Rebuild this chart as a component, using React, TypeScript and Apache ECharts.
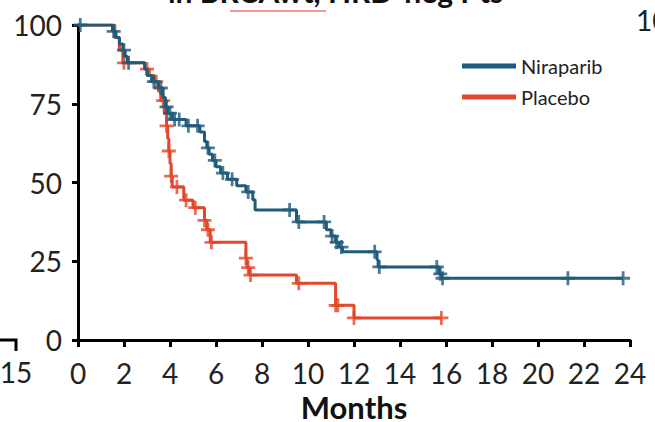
import React, { useEffect, useRef } from "react";
import * as echarts from "echarts";

// ---- Data ----
const seriesNames = ["Niraparib", "Placebo"];
const xTickLabels = ["0", "2", "4", "6", "8", "10", "12", "14", "16", "18", "20", "22", "24"];
const yTickLabels = ["0", "25", "50", "75", "100"];

// Kaplan-Meier steps: time (months) at which survival drops to the value
const niraparibTimes = [0, 1.5, 1.65, 1.8, 1.95, 2.05, 2.15, 2.9, 3.0, 3.2, 3.5, 3.7, 3.8, 3.9, 4.1, 4.7, 5.3, 5.5, 5.6, 5.7, 5.85, 6.0, 6.2, 6.5, 6.9, 7.3, 7.6, 7.7, 9.5, 10.8, 11.0, 11.2, 11.35, 11.5, 13.0, 13.05, 15.7, 15.8, 23.7];
const niraparibSurv = [100, 98, 96, 94, 92, 90, 88, 86, 84, 82, 80, 77, 74, 72, 70, 68, 66, 63, 61, 59, 57, 55, 53, 51, 49, 47, 44.5, 41.3, 37.5, 35, 33, 31, 29.5, 28, 25.5, 23.2, 21, 19.6, 19.6];
const niraparibCensors = [0.1, 1.55, 2.0, 2.2, 3.3, 3.6, 3.85, 4.0, 4.2, 4.4, 4.8, 5.2, 5.65, 5.95, 6.3, 6.7, 7.4, 9.2, 9.6, 10.7, 11.05, 11.25, 11.45, 12.9, 13.1, 15.6, 15.75, 15.85, 21.3, 23.7];

const placeboTimes = [0, 1.6, 1.8, 1.95, 2.9, 3.1, 3.3, 3.5, 3.6, 3.75, 3.85, 3.9, 3.95, 4.0, 4.05, 4.1, 4.6, 5.0, 5.5, 5.6, 5.75, 7.3, 7.35, 7.45, 9.5, 11.2, 12.0, 15.8];
const placeboSurv = [100, 96, 92, 88, 86, 84, 82, 79, 76, 72, 68, 64, 60, 56, 52, 48.6, 44.4, 42, 38, 35, 31, 26, 23, 20.6, 18, 11, 7, 7];
const placeboCensors = [2.0, 3.0, 3.4, 3.7, 3.85, 3.95, 4.05, 4.3, 4.7, 5.1, 5.5, 5.65, 5.8, 7.3, 7.4, 7.5, 9.6, 11.2, 11.3, 12.0, 15.8];

const BLUE = "#1f5b7a";
const RED = "#e2472b";
const FONT = "Lato, 'Open Sans', sans-serif";

function survAt(times: number[], surv: number[], t: number) {
  let v = surv[0];
  for (let i = 0; i < times.length; i++) {
    if (times[i] <= t) v = surv[i];
  }
  return v;
}

const PLUS = "path://M4,0h2v4h4v2h-4v4h-2v-4h-4v-2h4z";

export default function App() {
  const ref = useRef<HTMLDivElement>(null);
  useEffect(() => {
    document.body.style.margin = "0";
    if (!ref.current) return;
    const chart = echarts.init(ref.current, null, { renderer: "svg" });

    const nirLine = niraparibTimes.map((t, i) => [t, niraparibSurv[i]]);
    const plaLine = placeboTimes.map((t, i) => [t, placeboSurv[i]]);
    const nirC = niraparibCensors.map((t) => [t, survAt(niraparibTimes, niraparibSurv, t)]);
    const plaC = placeboCensors.map((t) => [t, survAt(placeboTimes, placeboSurv, t)]);

    // spell-check squiggle decoration
    const squiggle: number[][] = [];
    for (let x = 230; x <= 326; x += 3) squiggle.push([x, (x / 3) % 2 === 0 ? 8 : 11]);

    chart.setOption({
      animation: false,
      textStyle: { fontFamily: FONT },
      grid: { left: 78, right: 25, top: 25, bottom: 82, containLabel: false, outerBoundsMode: "none" },
      legend: {
        data: [
          { name: seriesNames[0], icon: "rect" },
          { name: seriesNames[1], icon: "rect" },
        ],
        orient: "vertical",
        left: 457,
        top: 51,
        itemWidth: 54,
        itemHeight: 5,
        itemGap: 11,
        textStyle: { fontSize: 20, color: "#222", fontFamily: FONT },
      },
      xAxis: {
        type: "value",
        min: 0,
        max: 24,
        interval: 2,
        name: "Months",
        nameLocation: "middle",
        nameGap: 54,
        nameTextStyle: { fontSize: 31, lineHeight: 26, fontWeight: "bold", color: "#111", fontFamily: FONT },
        axisLine: { show: true, lineStyle: { color: "#000", width: 3 } },
        axisTick: { show: true, length: 7, lineStyle: { color: "#000", width: 3 } },
        axisLabel: {
          fontSize: 28,
          color: "#222",
          margin: 19,
          formatter: (v: number) => xTickLabels[Math.round(v / 2)] ?? String(v),
        },
        splitLine: { show: false },
      },
      yAxis: {
        type: "value",
        min: 0,
        max: 100,
        interval: 25,
        axisLine: { show: true, lineStyle: { color: "#000", width: 3 } },
        axisTick: { show: true, length: 6, lineStyle: { color: "#000", width: 3 } },
        axisLabel: {
          fontSize: 28,
          color: "#222",
          margin: 16,
          formatter: (v: number) => yTickLabels[Math.round(v / 25)] ?? String(v),
        },
        splitLine: { show: false },
      },
      series: [
        {
          name: seriesNames[1],
          type: "line",
          step: "end",
          data: plaLine,
          showSymbol: false,
          symbol: "none",
          lineStyle: { color: RED, width: 3 },
          itemStyle: { color: RED },
          z: 2,
        },
        {
          name: seriesNames[1] + " censored",
          type: "scatter",
          data: plaC,
          symbol: PLUS,
          symbolSize: 14,
          itemStyle: { color: RED },
          z: 3,
        },
        {
          name: seriesNames[0],
          type: "line",
          step: "end",
          data: nirLine,
          showSymbol: false,
          symbol: "none",
          lineStyle: { color: BLUE, width: 3 },
          itemStyle: { color: BLUE },
          z: 4,
        },
        {
          name: seriesNames[0] + " censored",
          type: "scatter",
          data: nirC,
          symbol: PLUS,
          symbolSize: 14,
          itemStyle: { color: BLUE },
          z: 5,
        },
      ],
      graphic: [
        {
          type: "text",
          left: 168,
          top: -24,
          style: { text: "in BRCAwt, HRD-neg Pts", font: `bold 30px ${FONT}`, fill: "#111" },
        },
        {
          type: "polyline",
          shape: { points: squiggle },
          style: { stroke: "#f07070", lineWidth: 1.5, fill: null },
        },
        {
          type: "text",
          x: 16,
          y: 372,
          style: { text: "15", font: `28px ${FONT}`, fill: "#222", align: "center", verticalAlign: "middle" },
        },
        {
          type: "polyline",
          shape: { points: [[0, 340], [16, 340], [16, 351]] },
          style: { stroke: "#000", lineWidth: 3, fill: null },
        },
        {
          type: "text",
          x: 636,
          y: 20,
          style: { text: "10", font: `28px ${FONT}`, fill: "#222", align: "left", verticalAlign: "middle" },
        },
      ],
    });
    return () => chart.dispose();
  }, []);
  return <div ref={ref} style={{ width: 655, height: 422 }} />;
}
